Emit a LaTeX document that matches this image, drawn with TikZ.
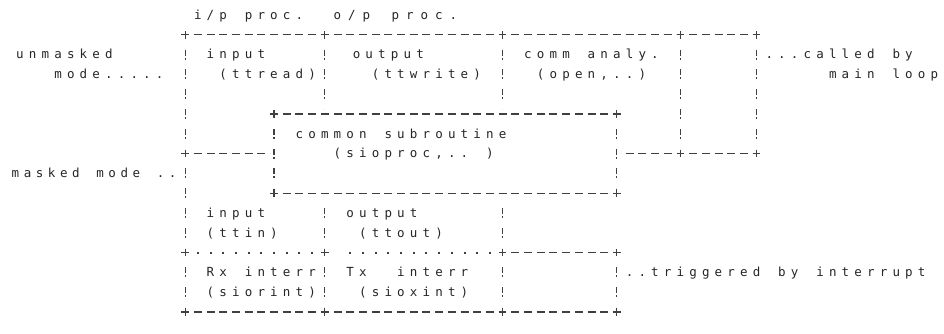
\documentclass[tikz,border=0pt]{standalone}
\usepackage{fontspec}
\newfontfamily\monofont{DejaVu Sans Mono}
\definecolor{ink}{gray}{0.15}
\definecolor{linec}{gray}{0.25}
\newlength\cellw \setlength\cellw{12.7pt}
\def\cellstep#1{\ifx#1\relax\else\makebox[\cellw][c]{#1}\expandafter\cellstep\fi}
\newcommand\cells[2][12.7pt]{\setlength\cellw{#1}\cellstep#2\relax}
% grid helpers: column centre, cell left edge, row centre, baseline
\def\CX#1{(20+12.7*(#1))}
\def\LX#1{(13.65+12.7*(#1))}
\def\RY#1{(15+19.8*(#1))}
\def\BY#1{(19.3+19.8*(#1))}
\tikzset{
  txt/.style={anchor=base west, inner sep=0pt, outer sep=0pt, text=ink,
    font=\monofont\fontsize{12.5}{14}\selectfont},
  hd/.style={draw=linec, line width=1.1pt, dash pattern=on 8pt off 4.7pt,
    dash phase=8pt, shorten <=4pt, shorten >=4pt},
  dotl/.style={draw=linec, line width=2pt, dash pattern=on 2pt off 10.7pt,
    dash phase=5pt, shorten <=4pt, shorten >=4pt},
  vd/.style={draw=linec, line width=1.1pt, dash pattern=on 6pt off 2pt on 2pt off 9.8pt,
    dash phase=10pt, shorten <=5pt, shorten >=5pt},
  plusmark/.pic={\draw[linec, line width=1.1pt] (-3.8,0) -- (3.8,0) (0,-3.8) -- (0,3.8);}
}
\begin{document}
\begin{tikzpicture}[x=1pt, y=-1pt]
\useasboundingbox (0,0) rectangle (944,333);
\fill[white] (0,0) rectangle (944,333);
% columns: A=13 B=20 C=24 D=38 E=47 F=52 G=58
\foreach \n/\c in {A/13,B/20,C/24,D/38,E/47,F/52,G/58}{
  \foreach \r in {1,5,7,9,12,15}{
    \coordinate (\n\r) at ({\CX{\c}},{\RY{\r}});
  }
}
% horizontal borders
\draw[hd] (A1) -- (C1);
\draw[hd] (C1) -- (D1);
\draw[hd] (D1) -- (F1);
\draw[hd] (F1) -- (G1);
\draw[hd] (B5) -- (E5);
\draw[hd] (A7) -- (B7);
\draw[hd] (F7) -- (E7);
\draw[hd] (F7) -- (G7);
\draw[hd] (B9) -- (E9);
\draw[hd] (D12) -- (E12);
\draw[hd] (A15) -- (C15);
\draw[hd] (C15) -- (D15);
\draw[hd] (D15) -- (E15);
\draw[dotl] (A12) -- (C12);
\draw[dotl, shorten >=16.7pt] (D12) -- (C12);
% vertical borders
\draw[vd] (A1) -- (A7);
\draw[vd] (A7) -- (A12);
\draw[vd] (A12) -- (A15);
\draw[vd] (B5) -- (B9);
\draw[vd] (C1) -- (C5);
\draw[vd] (D1) -- (D5);
\draw[vd] (C9) -- (C12);
\draw[vd] (C12) -- (C15);
\draw[vd] (D9) -- (D12);
\draw[vd] (D12) -- (D15);
\draw[vd] (E5) -- (E9);
\draw[vd] (E12) -- (E15);
\draw[vd] (F1) -- (F7);
\draw[vd] (G1) -- (G7);
% corner marks
\foreach \p in {A1,C1,D1,F1,G1,B5,E5,A7,F7,G7,B9,E9,A12,C12,D12,E12,A15,C15,D15,E15}{
  \pic at (\p) {plusmark};
}
% texts
\node[txt] (ip)     at ({\LX{14}},{\BY{0}})  {\cells{i/p~proc.}};
\node[txt] (op)     at (330.25,{\BY{0}})     {\cells[14.5pt]{o/p~proc.}};
\node[txt] (unm)    at ({\LX{0}},{\BY{2}})   {\cells{unmasked}};
\node[txt] (mode)   at ({\LX{3}},{\BY{3}})   {\cells{mode.....}};
\node[txt] (in1)    at ({\LX{15}},{\BY{2}})  {\cells{input}};
\node[txt] (in1b)   at ({\LX{16}},{\BY{3}})  {\cells{(ttread)}};
\node[txt] (out1)   at ({\LX{26.5}},{\BY{2}}) {\cells{output}};
\node[txt] (out1b)  at ({\LX{28}},{\BY{3}})  {\cells{(ttwrite)}};
\node[txt] (comm)   at ({\LX{40}},{\BY{2}})  {\cells{comm~analy.}};
\node[txt] (commb)  at ({\LX{41}},{\BY{3}})  {\cells{(open,..)}};
\node[txt] (called) at ({\LX{59}},{\BY{2}})  {\cells{...called~by}};
\node[txt] (mainl)  at ({\LX{64}},{\BY{3}})  {\cells{main~loop}};
\node[txt] (cs)     at ({\LX{22}},{\BY{6}})  {\cells{common~subroutine}};
\node[txt] (csb)    at ({\LX{25}},{\BY{7}})  {\cells{(sioproc,..~)}};
\node[txt] (masked) at (9.4,{\BY{8}})        {\cells[12.1pt]{masked~mode~..}};
\node[txt] (in2)    at ({\LX{15}},{\BY{10}}) {\cells{input}};
\node[txt] (in2b)   at ({\LX{15}},{\BY{11}}) {\cells{(ttin)}};
\node[txt] (out2)   at ({\LX{26}},{\BY{10}}) {\cells{output}};
\node[txt] (out2b)  at ({\LX{27}},{\BY{11}}) {\cells{(ttout)}};
\node[txt] (rx)     at ({\LX{15}},{\BY{13}}) {\cells{Rx~interr}};
\node[txt] (rxb)    at ({\LX{15}},{\BY{14}}) {\cells{(siorint)}};
\node[txt] (tx)     at ({\LX{26}},{\BY{13}}) {\cells{Tx~~interr}};
\node[txt] (txb)    at ({\LX{27}},{\BY{14}}) {\cells{(sioxint)}};
\node[txt] (trig)   at ({\LX{48}},{\BY{13}}) {\cells{..triggered~by~interrupt}};
\end{tikzpicture}
\end{document}
